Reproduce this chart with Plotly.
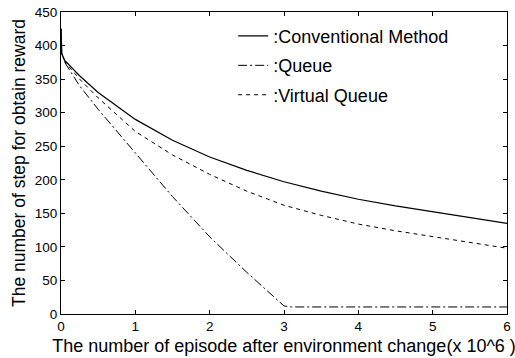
import plotly.graph_objects as go

episodes_conv = [0, 0.01, 0.05, 0.25, 0.5, 1, 1.5, 2, 2.5, 3, 3.5, 4, 4.5, 5, 5.5, 6]
conventional = [425, 388, 378, 355, 330, 290, 259, 234, 214, 197, 183, 171, 161, 152, 143, 135]

episodes_virtual = [0, 0.01, 0.05, 0.25, 0.5, 1, 1.5, 2, 2.5, 3, 3.5, 4, 4.5, 5, 5.5, 6]
virtual_queue = [425, 388, 376, 350, 322, 272, 237, 208, 183, 162, 147, 134, 124, 115, 106, 98]

episodes_queue = [0, 0.01, 0.05, 0.25, 0.5, 1, 1.5, 2, 2.5, 3, 3.1, 4, 5, 6]
queue = [425, 388, 375, 340, 305, 240, 175, 115, 62, 12, 10.5, 10.5, 10.5, 10.5]

x_ticks = [0, 1, 2, 3, 4, 5, 6]
y_ticks = [0, 50, 100, 150, 200, 250, 300, 350, 400, 450]

FONT = "Liberation Sans, Arial"

fig = go.Figure()
fig.add_trace(go.Scatter(x=episodes_conv, y=conventional, mode="lines", name=":Conventional Method",
                         line=dict(color="black", width=1.2), legendgroup="a"))
fig.add_trace(go.Scatter(x=episodes_queue, y=queue, mode="lines", name=":Queue",
                         line=dict(color="black", width=1, dash="9px,3px,2px,3px"), legendgroup="b"))
fig.add_trace(go.Scatter(x=episodes_virtual, y=virtual_queue, mode="lines", name=":Virtual Queue",
                         line=dict(color="black", width=1, dash="4px,4px"), legendgroup="c"))

axis_common = dict(showline=True, linecolor="black", linewidth=1, mirror="ticks",
                   ticks="inside", ticklen=4, tickcolor="black", showgrid=False, zeroline=False,
                   tickfont=dict(family=FONT, size=13.5, color="black"))

fig.update_layout(
    width=515, height=358,
    margin=dict(l=61, r=4, t=12, b=44),
    paper_bgcolor="white", plot_bgcolor="white",
    xaxis=dict(range=[0, 6], tickvals=x_ticks, **axis_common, ticklabeloverflow="allow",
               title=dict(text="The number of episode after environment change(x 10^6 )",
                          font=dict(family=FONT, size=18, color="black"),
                          standoff=6)),
    yaxis=dict(range=[0, 450], tickvals=y_ticks, **axis_common,
               title=dict(text="\u00a0\u00a0The number of step for obtain reward",
                          font=dict(family=FONT, size=17.5, color="black"),
                          standoff=4)),
    legend=dict(x=0.386, y=0.981, xanchor="left", yanchor="top", bgcolor="rgba(0,0,0,0)",
                borderwidth=0, font=dict(family=FONT, size=18, color="black"),
                itemwidth=30, tracegroupgap=3),
    showlegend=True,
)

fig.write_html("out.html", config={"displayModeBar": False},
               post_script="document.body.style.margin='0px';")
